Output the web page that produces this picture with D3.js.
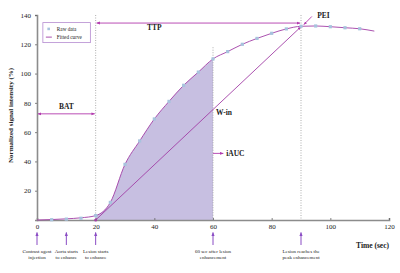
<!DOCTYPE html>
<html>
<head>
<meta charset="utf-8">
<script src="https://cdn.jsdelivr.net/npm/d3@7"></script>
<style>
  body { margin: 0; background: #fff; }
  svg text { font-family: "Liberation Serif", "Times New Roman", serif; fill: #222; }
</style>
</head>
<body>
<svg id="chart"></svg>
<script>
// raw samples (sec, %)
const rawTime = [5, 10, 15, 20, 25, 30, 35, 40, 45, 50, 55, 60, 65, 70, 75, 80, 85, 90, 95, 100, 105, 110]
const rawValue = [0.2, 0.6, 1.2, 3, 12, 38, 54, 69, 81, 92, 101, 110, 115, 120, 124, 127.5, 130.5, 132.3, 132.5, 132, 131.3, 130.6]

// fitted curve
const fitTime = [0, 5, 10, 15, 20, 25, 30, 35, 40, 45, 50, 55, 60, 65, 70, 75, 80, 85, 90, 95, 100, 105, 110, 115]
const fitValue = [0, 0.3, 0.8, 1.5, 3, 12, 38, 54, 69, 81, 92, 101, 110, 115, 120, 124, 127.5, 130.5, 132.3, 132.5, 132, 131.3, 130.6, 129]

const xTicks = [0, 20, 40, 60, 80, 100, 120]
const yTicks = [20, 40, 60, 80, 100, 120, 140]

const events = [
    { t: 0, lines: ['Contrast agent', 'injection'] },
    { t: 10, lines: ['Aorta starts', 'to enhance'] },
    { t: 20, lines: ['Lesion starts', 'to enhance'] },
    { t: 60, lines: ['60 sec after lesion', 'enhancement'] },
    { t: 90, lines: ['Lesion reaches the', 'peak enhancement'] }
]

const W = 400, H = 273
const margin = { top: 15, right: 11, bottom: 53, left: 37 }
const width = W - margin.left - margin.right
const height = H - margin.top - margin.bottom

const lineCol = '#a23ea6'
const arrowCol = '#b23aae'
const evCol = '#8a4cc4'

const svg = d3.select('#chart').attr('width', W).attr('height', H)

const defs = svg.append('defs')
function marker(id, col, size) {
    defs.append('marker')
        .attr('id', id)
        .attr('viewBox', '0 0 10 10')
        .attr('refX', 9).attr('refY', 5)
        .attr('markerWidth', size).attr('markerHeight', size)
        .attr('orient', 'auto-start-reverse')
        .append('path').attr('d', 'M0,1 L10,5 L0,9 z').attr('fill', col)
}
marker('arr', arrowCol, 4)
marker('evArr', evCol, 4)

const chart = svg.append('g').attr('transform', `translate(${margin.left},${margin.top})`)

const x = d3.scaleLinear().domain([0, 120]).range([0, width])
const y = d3.scaleLinear().domain([0, 140]).range([height, 0])

const fit = fitTime.map((t, i) => ({ t, v: fitValue[i] }))
const raw = rawTime.map((t, i) => ({ t, v: rawValue[i] }))

// shaded iAUC area 20..60
const area = d3.area()
    .x(d => x(d.t)).y0(y(0)).y1(d => y(d.v))
    .curve(d3.curveMonotoneX)
chart.append('path')
    .datum(fit.filter(d => d.t >= 20 && d.t <= 60))
    .attr('fill', '#c7bfe1')
    .attr('d', area)

// vertical dotted guides
const guides = [{ t: 20, top: 140 }, { t: 60, top: 118 }, { t: 90, top: 140 }]
chart.selectAll('.guide').data(guides).join('line')
    .attr('class', 'guide')
    .attr('x1', d => x(d.t)).attr('x2', d => x(d.t))
    .attr('y1', d => y(d.top)).attr('y2', y(0))
    .attr('stroke', '#9a9a9a').attr('stroke-width', 0.8)
    .attr('stroke-dasharray', '1,1.5')

// axes
const xAxis = d3.axisBottom(x).tickValues(xTicks).tickSize(-2).tickPadding(4)
const yAxis = d3.axisLeft(y).tickValues(yTicks).tickSize(2).tickPadding(4)

const xg = chart.append('g').attr('transform', `translate(0,${height})`).call(xAxis)
const yg = chart.append('g').call(yAxis)
;[xg, yg].forEach(g => {
    g.select('.domain').attr('stroke', '#8c8c8c').attr('stroke-width', 1.6)
    g.selectAll('.tick line').attr('stroke', '#666').attr('stroke-width', 0.8)
    g.selectAll('.tick text').attr('font-size', 7).attr('font-family', 'Liberation Serif, serif').attr('fill', '#333')
})
yg.select('.tick text').attr('fill', '#333')
// 0 label on x axis only
xg.selectAll('.tick text').attr('dy', '0.75em')

// W-in line
chart.append('line')
    .attr('x1', x(20)).attr('y1', y(0))
    .attr('x2', x(90)).attr('y2', y(132))
    .attr('stroke', lineCol).attr('stroke-width', 0.9)
    .attr('marker-end', 'url(#arr)')
chart.append('circle')
    .attr('cx', x(20)).attr('cy', y(0)).attr('r', 1.5)
    .attr('fill', lineCol)

// fitted curve
const line = d3.line().x(d => x(d.t)).y(d => y(d.v)).curve(d3.curveMonotoneX)
chart.append('path')
    .datum(fit)
    .attr('fill', 'none')
    .attr('stroke', lineCol).attr('stroke-width', 0.9)
    .attr('d', line)

// raw points
chart.selectAll('.raw').data(raw).join('rect')
    .attr('class', 'raw')
    .attr('x', d => x(d.t) - 1.6).attr('y', d => y(d.v) - 1.6)
    .attr('width', 3.2).attr('height', 3.2)
    .attr('fill', '#a7c3dd')

// double arrows
function dblArrow(x1, y1, x2, y2) {
    chart.append('line')
        .attr('x1', x1).attr('y1', y1).attr('x2', x2).attr('y2', y2)
        .attr('stroke', arrowCol).attr('stroke-width', 0.9)
        .attr('marker-start', 'url(#arr)')
        .attr('marker-end', 'url(#arr)')
}
dblArrow(x(0) + 1, y(72.5), x(20) - 1, y(72.5))
dblArrow(x(20) + 1, y(134.5), x(90) - 1, y(134.5))

// PEI arrow
chart.append('line')
    .attr('x1', x(93.7)).attr('y1', y(139))
    .attr('x2', x(91)).attr('y2', y(133.5))
    .attr('stroke', arrowCol).attr('stroke-width', 0.9)
    .attr('marker-end', 'url(#arr)')

// iAUC arrow
chart.append('line')
    .attr('x1', x(60)).attr('y1', y(45.5))
    .attr('x2', x(63.5)).attr('y2', y(45.5))
    .attr('stroke', arrowCol).attr('stroke-width', 0.9)
    .attr('marker-end', 'url(#arr)')

const labels = [
    { text: 'BAT', t: 10, v: 76, anchor: 'middle' },
    { text: 'TTP', t: 40, v: 129.5, anchor: 'middle' },
    { text: 'PEI', t: 95.5, v: 138, anchor: 'start' },
    { text: 'W-in', t: 61, v: 72, anchor: 'start' },
    { text: 'iAUC', t: 64.5, v: 44, anchor: 'start' }
]
chart.selectAll('.lbl').data(labels).join('text')
    .attr('class', 'lbl')
    .attr('x', d => x(d.t)).attr('y', d => y(d.v))
    .attr('text-anchor', d => d.anchor)
    .attr('font-size', 7.5).attr('font-weight', 'bold')
    .text(d => d.text)

// event arrows and captions under the axis
const ev = chart.selectAll('.ev').data(events).join('g')
    .attr('class', 'ev')
    .attr('transform', d => `translate(${x(d.t)},${height})`)
ev.append('line')
    .attr('x1', 0).attr('x2', 0).attr('y1', 25).attr('y2', 12.5)
    .attr('stroke', evCol).attr('stroke-width', 1)
    .attr('marker-end', 'url(#evArr)')
ev.append('text')
    .attr('text-anchor', 'middle')
    .attr('font-size', 5)
    .selectAll('tspan').data(d => d.lines).join('tspan')
    .attr('x', 0).attr('y', (d, i) => 32.5 + i * 6)
    .text(d => d)

// axis titles
chart.append('text')
    .attr('x', width).attr('y', height + 27.5)
    .attr('text-anchor', 'end')
    .attr('font-size', 7.5).attr('font-weight', 'bold')
    .text('Time (sec)')

chart.append('text')
    .attr('transform', `translate(${-24},${height / 2 - 2}) rotate(-90)`)
    .attr('text-anchor', 'middle')
    .attr('font-size', 7).attr('font-weight', 'bold')
    .text('Normalized signal intensity (%)')

// legend
const lg = chart.append('g').attr('transform', `translate(${x(2)},${y(134.8)})`)
lg.append('rect')
    .attr('width', 47.5).attr('height', 20)
    .attr('fill', '#fff').attr('stroke', '#b58bd0').attr('stroke-width', 0.8)
lg.append('rect').attr('x', 4.5).attr('y', 5).attr('width', 2.6).attr('height', 2.6).attr('fill', '#a7c3dd')
lg.append('line').attr('x1', 3).attr('x2', 9).attr('y1', 14.5).attr('y2', 14.5)
    .attr('stroke', lineCol).attr('stroke-width', 0.9)
lg.append('text').attr('x', 14).attr('y', 8.3).attr('font-size', 5.2).text('Raw data')
lg.append('text').attr('x', 14).attr('y', 16.3).attr('font-size', 5.2).text('Fitted curve')
</script>
</body>
</html>
